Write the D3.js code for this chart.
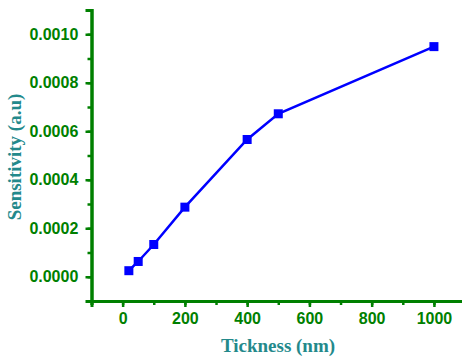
<!DOCTYPE html>
<html>
<head>
<meta charset="utf-8">
<script src="https://cdn.jsdelivr.net/npm/d3@7"></script>
<style>
  body { margin: 0; background: #fff; }
  svg { display: block; }
</style>
</head>
<body>
<div id="chart"></div>
<script>
// thickness (nm) vs sensitivity (a.u)
const thickness = [20, 50, 100, 200, 400, 500, 1000];
const sensitivity = [0.000025, 0.000063, 0.000133, 0.000287, 0.000566, 0.000672, 0.000949];
const xTickValues = [0, 200, 400, 600, 800, 1000];
const yTickValues = [0, 0.0002, 0.0004, 0.0006, 0.0008, 0.0010];

const width = 462, height = 356;
const axisColor = '#008000';
const titleColor = '#23898b';

const svg = d3.select('#chart').append('svg')
  .attr('width', width)
  .attr('height', height);

// plot frame: left axis at x=91.5, bottom axis at y=301
const x = d3.scaleLinear().domain([-100, 1100]).range([91.5, 91.5 + 1200 * 0.3113]);
const y = d3.scaleLinear().domain([-0.0001, 0.0011]).range([301, 10]);

// minor ticks first, no labels
const xMinor = d3.axisBottom(x).tickValues(d3.range(-100, 1100, 100)).tickSize(4).tickFormat('');
const yMinor = d3.axisLeft(y).tickValues(d3.range(-1, 11).map(i => i * 0.0001)).tickSize(4).tickFormat('');

svg.append('g').attr('transform', `translate(0,${y.range()[0]})`).call(xMinor);
svg.append('g').attr('transform', `translate(${x.range()[0]},0)`).call(yMinor);

const xAxis = d3.axisBottom(x).tickValues(xTickValues).tickSize(6).tickPadding(6).tickFormat(d3.format('d'));
const yAxis = d3.axisLeft(y).tickValues(yTickValues).tickSize(6).tickPadding(4).tickFormat(d3.format('.4f'));

const gx = svg.append('g').attr('transform', `translate(0,${y.range()[0]})`).call(xAxis);
const gy = svg.append('g').attr('transform', `translate(${x.range()[0]},0)`).call(yAxis);

// style all axes
svg.selectAll('.domain').attr('stroke', axisColor).attr('stroke-width', 3);
svg.selectAll('.tick line').attr('stroke', axisColor).attr('stroke-width', 2.5);
svg.selectAll('.tick text')
  .attr('fill', axisColor)
  .style('font-family', '"Liberation Sans", Arial, sans-serif')
  .style('font-weight', 'bold')
  .style('font-size', '16px');
gy.selectAll('.tick text').attr('dx', '-0.2em');

// line + square markers
const line = d3.line()
  .x((d, i) => x(thickness[i]))
  .y(d => y(d));

svg.append('path')
  .datum(sensitivity)
  .attr('fill', 'none')
  .attr('stroke', '#0000ff')
  .attr('stroke-width', 2.5)
  .attr('d', line);

const s = 9;
svg.selectAll('rect.pt')
  .data(sensitivity)
  .enter().append('rect')
  .attr('class', 'pt')
  .attr('x', (d, i) => x(thickness[i]) - s / 2)
  .attr('y', d => y(d) - s / 2)
  .attr('width', s)
  .attr('height', s)
  .attr('fill', '#0000ff');

// axis titles
svg.append('text')
  .attr('x', 278)
  .attr('y', 352)
  .attr('text-anchor', 'middle')
  .attr('fill', titleColor)
  .style('font-family', '"Liberation Serif", "Times New Roman", serif')
  .style('font-weight', 'bold')
  .style('font-size', '19px')
  .text('Tickness (nm)');

svg.append('text')
  .attr('transform', 'translate(21,157) rotate(-90)')
  .attr('text-anchor', 'middle')
  .attr('fill', titleColor)
  .style('font-family', '"Liberation Serif", "Times New Roman", serif')
  .style('font-weight', 'bold')
  .style('font-size', '19px')
  .text('Sensitivity (a.u)');
</script>
</body>
</html>
